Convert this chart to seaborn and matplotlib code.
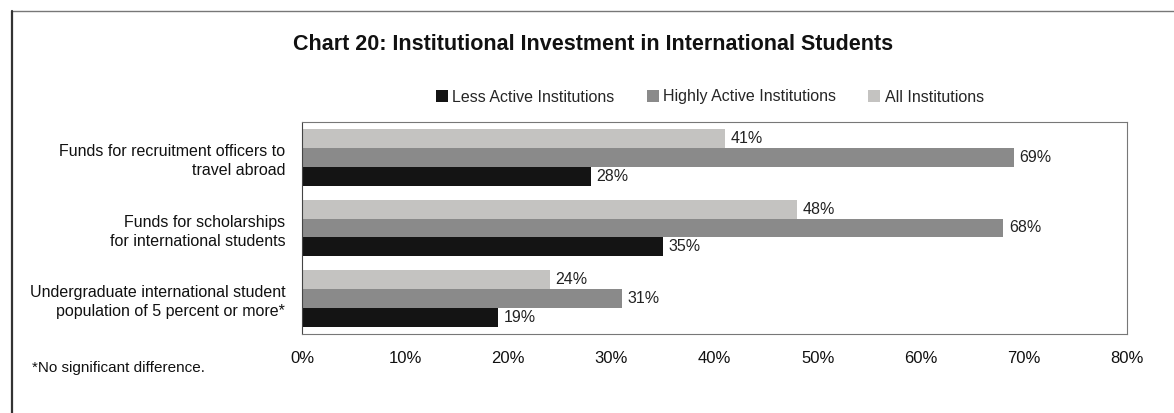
import pandas as pd
import seaborn as sns
import matplotlib.pyplot as plt
from matplotlib.patches import Patch
from matplotlib.lines import Line2D

# data
categories = ['Funds for recruitment officers to\ntravel abroad',
              'Funds for scholarships\nfor international students',
              'Undergraduate international student\npopulation of 5 percent or more*']
less_active = [28, 35, 19]
highly_active = [69, 68, 31]
all_inst = [41, 48, 24]
series = ['Less Active Institutions', 'Highly Active Institutions', 'All Institutions']
colors = {'Less Active Institutions': '#141414',
          'Highly Active Institutions': '#8a8a8a',
          'All Institutions': '#c4c3c1'}
xticks = [0, 10, 20, 30, 40, 50, 60, 70, 80]

rows = []
for name, vals in zip(series, [less_active, highly_active, all_inst]):
    for c, v in zip(categories, vals):
        rows.append({'cat': c, 'group': name, 'pct': v})
df = pd.DataFrame(rows)

sns.set_style('white')
plt.rcParams['font.family'] = ['Liberation Sans Narrow', 'Liberation Sans', 'DejaVu Sans']

fig = plt.figure(figsize=(11.74, 4.13), dpi=100)
ax = fig.add_axes([302/1174, 1-334/413, (1127-302)/1174, (334-122)/413])

# light bar on top, black at the bottom of each group
sns.barplot(data=df, y='cat', x='pct', hue='group',
            hue_order=['All Institutions', 'Highly Active Institutions', 'Less Active Institutions'],
            palette=colors, orient='h', width=0.8, errorbar=None, linewidth=0, ax=ax)

for cont in ax.containers:
    ax.bar_label(cont, fmt='%.0f%%', padding=4, fontsize=11.5, color='#222222')

ax.set_xlim(0, 80)
ax.set_ylim(2.5, -0.5)
ax.set_xticks(xticks)
ax.set_xticklabels([f'{t}%' for t in xticks], fontsize=12, color='#111111')
ax.tick_params(axis='x', length=3, pad=9, color='#888888')
ax.tick_params(axis='y', length=0, pad=12, labelsize=11.5, labelcolor='#111111')
for lab in ax.get_yticklabels():
    lab.set_linespacing(1.35)
ax.set_xlabel('')
ax.set_ylabel('')
ax.legend_.remove()
for s in ax.spines.values():
    s.set_color('#777777')
    s.set_linewidth(0.8)
ax.spines['left'].set_color('#444444')

# legend in the order Less / Highly / All
handles = [Patch(facecolor=colors[s], edgecolor='none') for s in series]
fig.legend(handles, series, loc='center', bbox_to_anchor=(710/1174, 1-97/413),
           ncol=3, frameon=False, fontsize=11.5, handlelength=0.75, handleheight=0.75,
           handletextpad=0.3, columnspacing=2.0)

fig.text(593/1174, 1-45/413, 'Chart 20: Institutional Investment in International Students',
         ha='center', va='center', fontsize=15.5, fontweight='bold', color='#111111')
fig.text(32/1174, 1-368/413, '*No significant difference.', ha='left', va='center',
         fontsize=11, color='#111111')

# outer frame (runs off the right and bottom)
fig.add_artist(Line2D([12/1174, 1], [1-11/413, 1-11/413], transform=fig.transFigure,
                      color='#777777', lw=1))
fig.add_artist(Line2D([12/1174, 12/1174], [1-11/413, 0], transform=fig.transFigure,
                      color='#333333', lw=1.6))

fig.savefig('out.png', dpi=100)
